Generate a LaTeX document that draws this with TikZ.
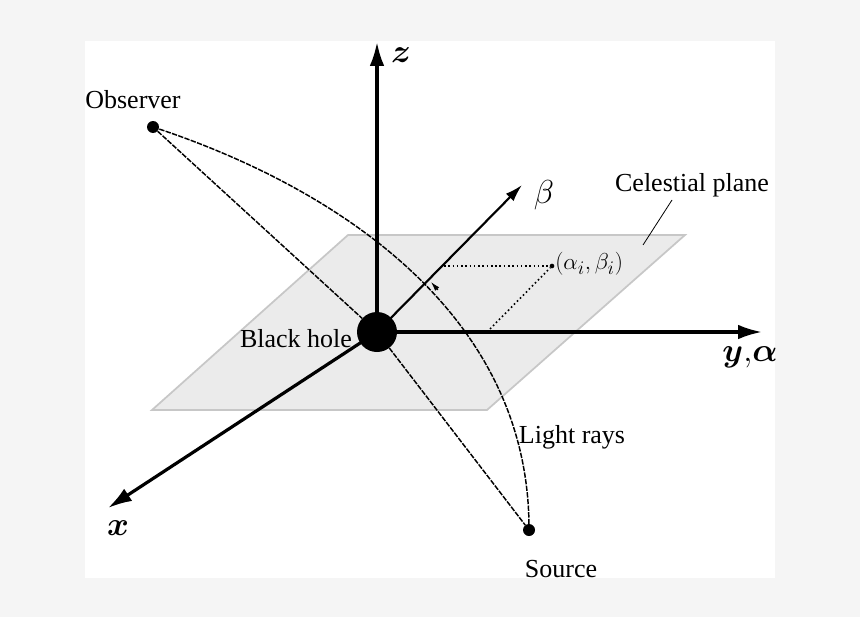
\documentclass[tikz,border=0pt]{standalone}
\usepackage{amsmath,amssymb}
\usepackage{bm}
\usepackage{fontspec}
\setmainfont{Liberation Serif}
\usetikzlibrary{arrows.meta}
\begin{document}
\begin{tikzpicture}[x=0.75pt,y=-0.75pt,
  ax/.style={line width=2.4pt,-{Latex[length=18pt,width=11pt]}},
  ray/.style={line width=1.1pt,dash pattern=on 4pt off 1pt},
  lbl/.style={font=\fontsize{19.5}{22}\selectfont,inner sep=0pt},
  mlbl/.style={font=\fontsize{23}{25}\selectfont,inner sep=0pt},
  dot/.style={circle,fill=black,inner sep=0pt,minimum size=9pt}]
\fill[black!4] (0,0) rectangle (860,617);
\fill[white] (85,41) rectangle (775,578);
\useasboundingbox (0,0) rectangle (860,617);
\filldraw[fill=black!8,draw=black!22,line width=1.3pt] (348,235) -- (685,235) -- (487,410) -- (152,410) -- cycle;
\node[circle,fill=black,inner sep=0pt,minimum size=30pt] (bh) at (377,332) {};
\node[dot] (obs) at (153,127) {};
\node[dot] (src) at (529,530) {};
\node[circle,fill=black,inner sep=0pt,minimum size=3.5pt] (pt) at (552,266) {};
\coordinate (zt) at (377,42);
\coordinate (yt) at (762,332);
\coordinate (xt) at (108,508);
\coordinate (bt) at (522,185);
\coordinate (pb) at (444,266);
\coordinate (py) at (487,332);
\coordinate (a1) at (438,290);
\coordinate (a2) at (431,282);
\draw[ax] (bh.center) -- (zt);
\draw[ax] (bh.center) -- (yt);
\draw[ax] (bh.center) -- (xt);
\draw[line width=1.6pt,-{Latex[length=13pt,width=8pt]}] (bh.center) -- (bt);
\draw[ray] (obs) -- (bh);
\draw[ray] (bh) -- (src);
\draw[ray] (obs.center) .. controls (330,185) and (530,310) .. (src.center);
\draw[-{Latex[length=7pt,width=4pt]},line width=0.7pt] (a1) -- (a2);
\draw[dotted,line width=1.2pt] (pb) -- (pt);
\draw[dotted,line width=1.2pt] (py) -- (pt);
\node[mlbl,anchor=west,font=\fontsize{19}{21}\selectfont] (pl) at (555,264) {$(\alpha_i,\beta_i)$};
\node[mlbl] (zl) at (401,55) {$\bm{z}$};
\node[mlbl] (yl) at (750,357) {$\bm{y},\!\bm{\alpha}$};
\node[mlbl] (xl) at (118,528) {$\bm{x}$};
\node[mlbl,font=\fontsize{26}{28}\selectfont] (bl) at (544,195) {$\beta$};
\node[lbl] (ol) at (133,100) {Observer};
\node[lbl] (sl) at (561,569) {Source};
\node[lbl] (bhl) at (296,339) {Black hole};
\node[lbl] (ll) at (572,437) {Light rays};
\node[lbl] (cl) at (692,185) {Celestial plane};
\coordinate (c1) at (672,200);
\coordinate (c2) at (643,245);
\draw[line width=0.6pt] (c1) -- (c2);
\end{tikzpicture}
\end{document}
